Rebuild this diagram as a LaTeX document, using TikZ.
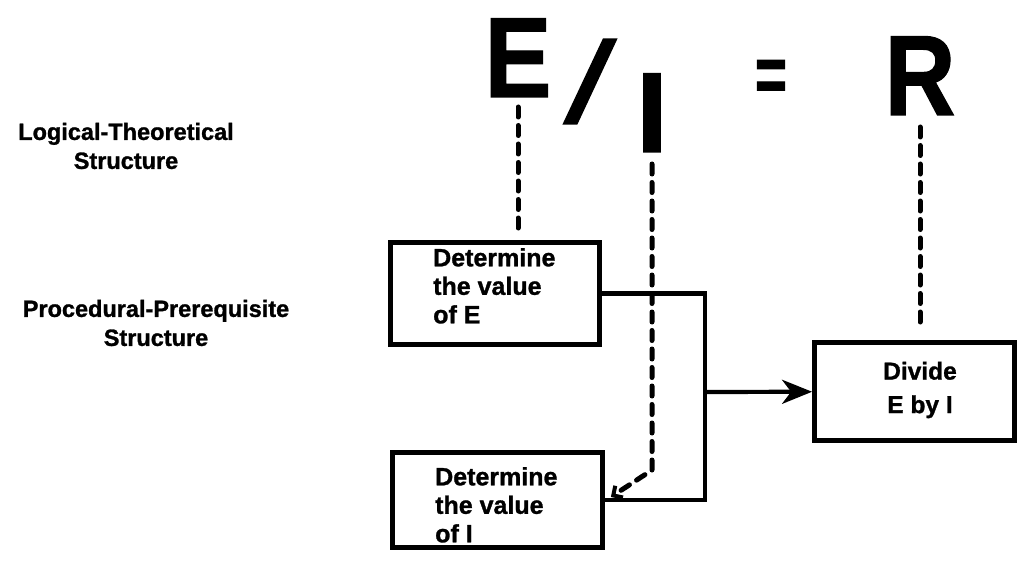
\documentclass[tikz,border=0pt]{standalone}
\usepackage{fontspec}
\setmainfont{Liberation Sans}[BoldFeatures={FakeBold=1.2}]
\usetikzlibrary{arrows.meta,calc}
\begin{document}
\begin{tikzpicture}[x=1pt,y=-1pt,
  box/.style={draw, line width=4.8pt, inner sep=0pt},
  boxtext/.style={font=\fontsize{25}{28.5}\selectfont\bfseries, align=left, inner sep=0pt},
  divtext/.style={font=\fontsize{24.5}{33.5}\selectfont\bfseries, align=center, inner sep=0pt},
  lbl/.style={font=\fontsize{23.5}{29}\selectfont\bfseries, align=center, inner sep=0pt},
  big/.style={font=\fontsize{114}{114}\selectfont\bfseries, inner sep=0pt},
  conn/.style={line width=4.2pt},
  dashline/.style={line width=5pt, dash pattern=on 10pt off 8.5pt, line cap=round},
]
\useasboundingbox (0,0) rectangle (1020,567);

% left labels
\node[lbl] (lt) at (126,146) {Logical-Theoretical\\Structure};
\node[lbl] (pp) at (156,323) {Procedural-Prerequisite\\Structure};

% formula
\node[big, anchor=base, xscale=0.88] (E) at (518,97) {E};
\node[big, xslant=0.28] (sl) at (590,81.5) {/};
\node[big, anchor=base] (I) at (652,152) {I};
\node[font=\fontsize{80}{80}\selectfont\bfseries, inner sep=0pt, xscale=0.69] (eq) at (771,81) {=};
\node[big, anchor=base, xscale=0.86] (R) at (920,115) {R};

% boxes
\node[box, minimum width=209pt, minimum height=102pt] (bE) at (495,293.5) {};
\node[boxtext, anchor=north west] (tE) at (433,248) {Determine\\the value\\of E};
\node[box, minimum width=210pt, minimum height=95pt] (bI) at (497.5,500) {};
\node[boxtext, anchor=north west] (tI) at (435,467) {Determine\\the value\\of I};
\node[box, minimum width=200pt, minimum height=98pt] (bD) at (914.5,391.5) {};
\node[divtext] (tD) at (920,390) {Divide\\E by I};

% solid connectors
\coordinate (fork) at (705,392);
\draw[conn] (bE.east) -| (fork);
\draw[conn] (bI.east) -| (fork);
\draw[conn, -{Stealth[length=30pt, width=24pt, inset=9pt]}] (fork) -- (bD);

% dashed links
\draw[dashline, shorten <=10pt, shorten >=8pt] (E.base) -- (E.base |- bE.north);
\coordinate (ibend) at (652,470);
\coordinate (iend) at ($(bI.east)+(6,-3)$);
\draw[dashline, shorten <=12pt, -{Straight Barb[length=7pt, width=14pt, line width=4pt]}] (I.base) -- (ibend) -- (iend);
\draw[dashline, shorten <=12pt, shorten >=10pt] (R.base) -- (R.base |- bD.north);
\end{tikzpicture}
\end{document}
